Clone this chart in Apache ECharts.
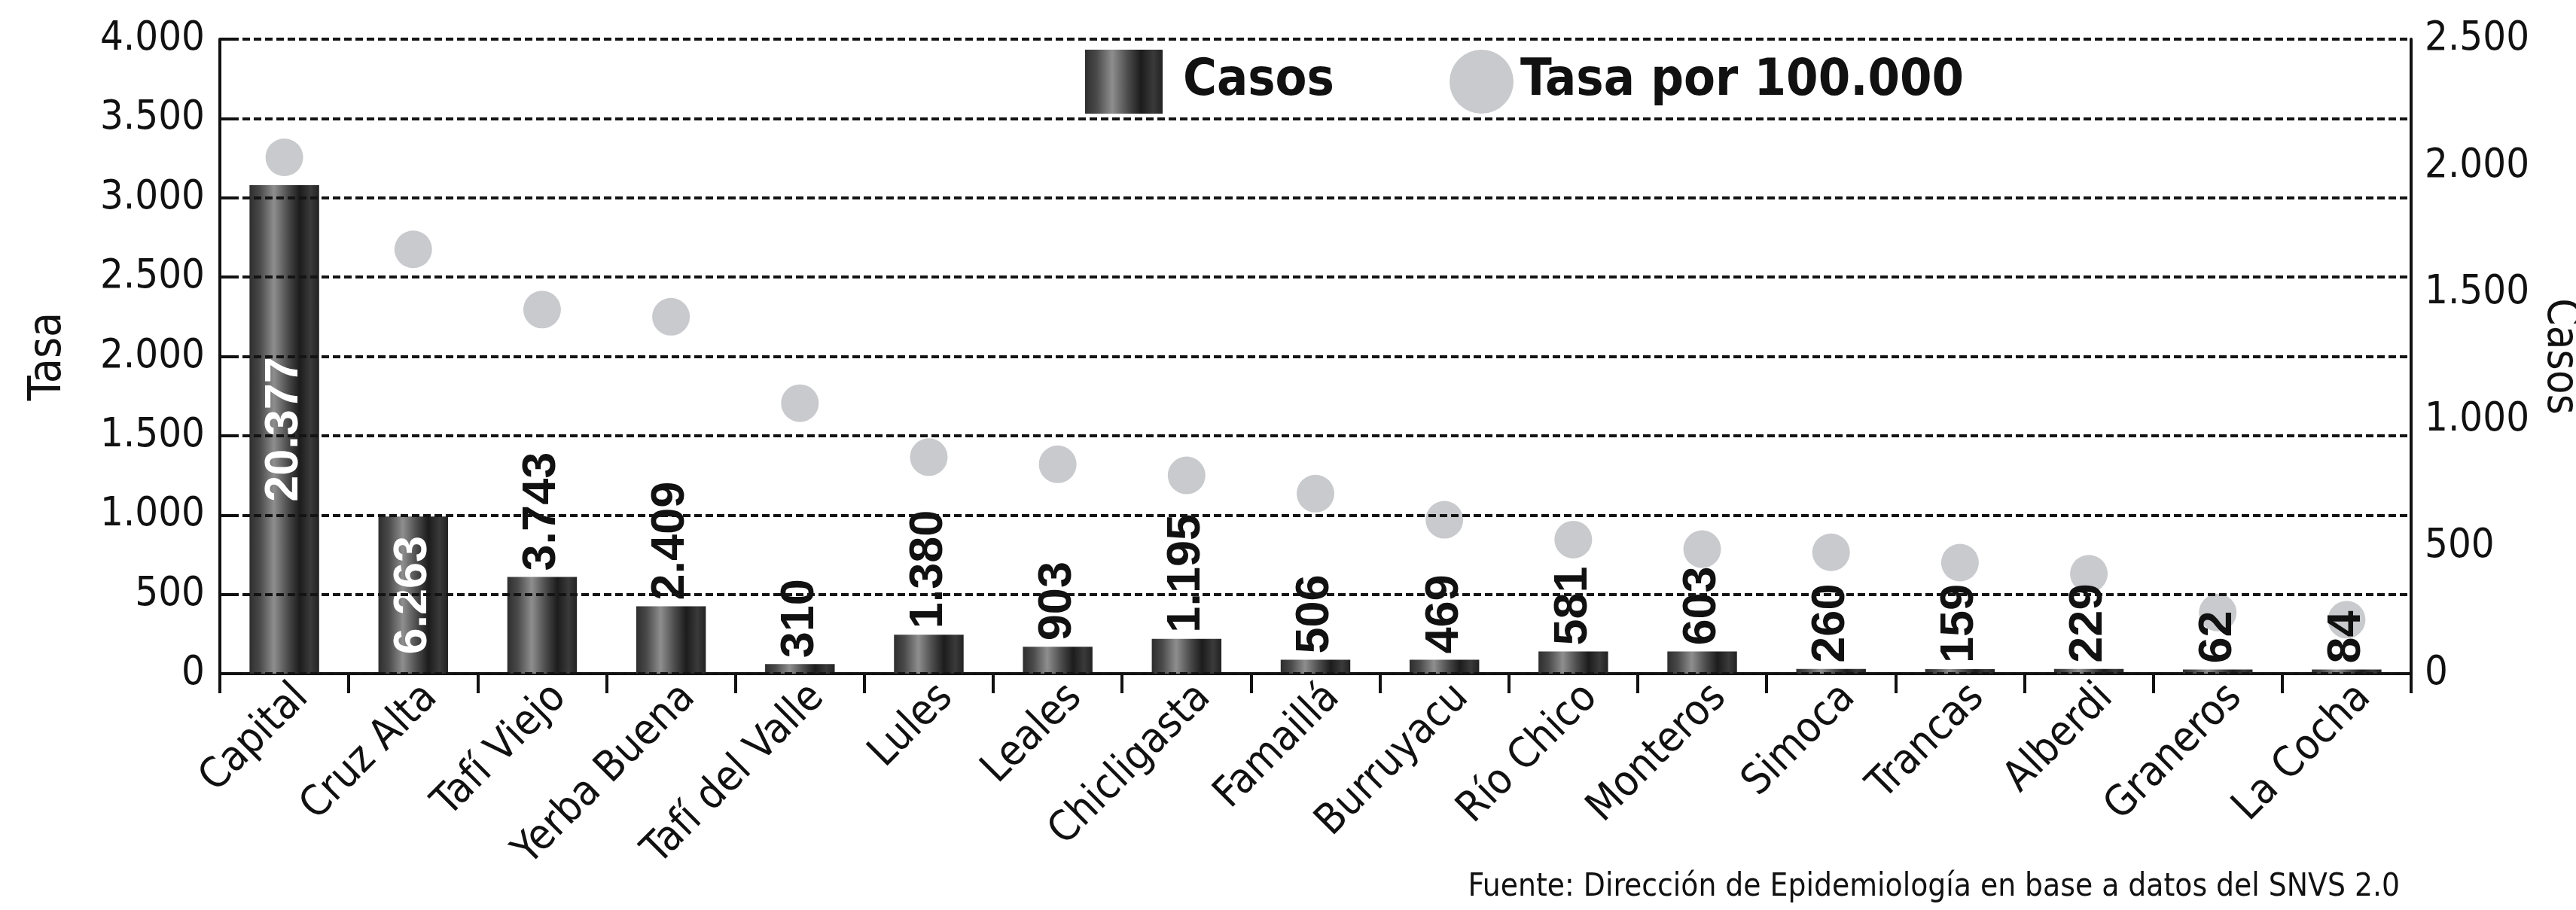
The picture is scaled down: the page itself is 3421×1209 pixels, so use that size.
<!DOCTYPE html>
<html>
<head>
<meta charset="utf-8">
<script src="https://cdn.jsdelivr.net/npm/echarts@6/dist/echarts.min.js"></script>
<style>
html,body{margin:0;padding:0;background:#fff;}
#chart{width:3421px;height:1209px;}
</style>
</head>
<body>
<div id="chart"></div>
<script>
// ---- data ----
var categories = ['Capital','Cruz Alta','Tafí Viejo','Yerba Buena','Tafí del Valle','Lules','Leales','Chicligasta','Famaillá','Burruyacu','Río Chico','Monteros','Simoca','Trancas','Alberdi','Graneros','La Cocha'];
// bar heights as drawn (read on left axis)
var barValues = [3080, 990, 610, 425, 60, 245, 170, 220, 88, 88, 140, 140, 30, 28, 30, 26, 26];
// case counts printed on bars
var casosLabels = [20377, 6263, 3743, 2409, 310, 1380, 903, 1195, 506, 469, 581, 603, 260, 159, 229, 62, 84];
// dots (Tasa por 100.000, read on left axis)
var tasaValues = [3255, 2675, 2295, 2250, 1705, 1365, 1320, 1250, 1135, 970, 845, 785, 765, 700, 630, 385, 340];
var leftTicks = {min: 0, max: 4000, interval: 500};
var rightTicks = {min: 0, max: 2500, interval: 500};

var COND = "'DejaVu Sans Condensed','Liberation Sans',sans-serif";
var SANS = "'Liberation Sans',Arial,sans-serif";

function fmt(v){ return String(v).replace(/\B(?=(\d{3})+(?!\d))/g, '.'); }

var barGrad = {
  type: 'linear', x: 0, y: 0, x2: 1, y2: 0,
  colorStops: [
    {offset: 0, color: '#2e2e2e'},
    {offset: 0.15, color: '#4a4a4a'},
    {offset: 0.35, color: '#8e8e8e'},
    {offset: 0.55, color: '#4c4c4c'},
    {offset: 0.72, color: '#1c1c1c'},
    {offset: 0.88, color: '#3a3a3a'},
    {offset: 1, color: '#222222'}
  ]
};

var barData = barValues.map(function(v, i){
  var d = {value: v};
  if (i < 2) {
    d.label = {position: 'inside', color: '#ffffff', rotate: 90, align: 'center', verticalAlign: 'middle'};
  }
  return d;
});

var chart = echarts.init(document.getElementById('chart'), null, {renderer: 'canvas'});
chart.setOption({
  animation: false,
  backgroundColor: '#ffffff',
  grid: {left: 292, right: 219, top: 52, bottom: 314, containLabel: false, outerBoundsMode: 'none'},
  title: {
    text: 'Fuente: Dirección de Epidemiología en base a datos del SNVS 2.0',
    right: 229, bottom: 4,
    textStyle: {fontFamily: COND, fontSize: 42, fontWeight: 'normal', color: '#111'}
  },
  legend: [
    {
      data: [{name: 'Casos', icon: 'rect'}],
      left: 1436, top: 61,
      itemWidth: 103, itemHeight: 85,
      textStyle: {fontFamily: COND, fontSize: 68, fontWeight: 'bold', color: '#111', padding: [0, 0, 0, 22]}
    },
    {
      data: [{name: 'Tasa por 100.000', icon: 'circle'}],
      left: 1920, top: 61,
      itemWidth: 85, itemHeight: 85,
      textStyle: {fontFamily: COND, fontSize: 68, fontWeight: 'bold', color: '#111', padding: [0, 0, 0, 4]}
    }
  ],
  xAxis: {
    type: 'category',
    data: categories,
    boundaryGap: true,
    axisLine: {lineStyle: {color: '#111', width: 4}},
    axisTick: {show: true, length: 26, lineStyle: {color: '#111', width: 4}},
    axisLabel: {rotate: 45, margin: 0, verticalAlign: 'top', lineHeight: 66, fontFamily: COND, fontSize: 56, color: '#111', interval: 0}
  },
  yAxis: [
    {
      type: 'value', min: leftTicks.min, max: leftTicks.max, interval: leftTicks.interval,
      name: 'Tasa', nameLocation: 'middle', nameRotate: 90, nameGap: 198,
      nameTextStyle: {fontFamily: COND, fontSize: 60, color: '#111'},
      z: 10,
      axisLine: {show: true, lineStyle: {color: '#111', width: 4}},
      axisTick: {show: true, inside: true, length: 25, lineStyle: {color: '#111', width: 4}},
      axisLabel: {fontFamily: COND, fontSize: 54, color: '#111', margin: 20, formatter: fmt},
      splitLine: {show: true, lineStyle: {color: '#141414', width: 4, type: [10, 5]}}
    },
    {
      type: 'value', min: rightTicks.min, max: rightTicks.max, interval: rightTicks.interval,
      name: 'Casos', nameLocation: 'middle', nameRotate: -90, nameGap: 160,
      nameTextStyle: {fontFamily: COND, fontSize: 58, color: '#111'},
      position: 'right',
      axisLine: {show: true, lineStyle: {color: '#111', width: 4}},
      axisTick: {show: false},
      axisLabel: {fontFamily: COND, fontSize: 54, color: '#111', margin: 18, formatter: fmt},
      splitLine: {show: false}
    }
  ],
  series: [
    {
      name: 'Tasa por 100.000',
      type: 'scatter',
      yAxisIndex: 0,
      z: 1,
      symbol: 'circle',
      symbolSize: 50,
      itemStyle: {color: '#bcbdc0'},
      data: tasaValues
    },
    {
      name: 'Casos',
      type: 'bar',
      yAxisIndex: 0,
      z: 3,
      barWidth: '54%',
      itemStyle: {color: barGrad},
      label: {
        show: true, position: 'top', rotate: 90, align: 'left', verticalAlign: 'middle', distance: 8,
        fontFamily: SANS, fontSize: 63, fontWeight: 'bold', color: '#111',
        formatter: function(p){ return fmt(casosLabels[p.dataIndex]); }
      },
      data: barData
    }
  ]
});
</script>
</body>
</html>
